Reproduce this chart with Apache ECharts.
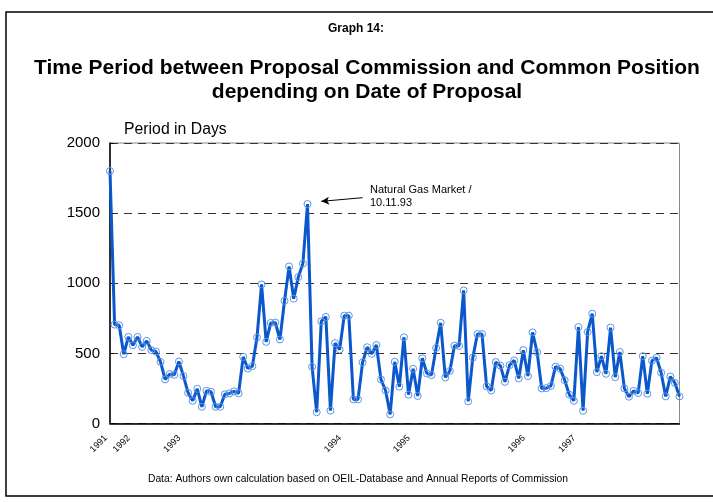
<!DOCTYPE html>
<html>
<head>
<meta charset="utf-8">
<script src="https://cdn.jsdelivr.net/npm/echarts@6/dist/echarts.min.js"></script>
<style>
html,body{margin:0;padding:0;background:#fff;}
#c{width:713px;height:502px;}
</style>
</head>
<body>
<div id="c"></div>
<script>
// Period in days for each proposal (in order of date of proposal)
const periodDays = [
  1800,705,700,494,617,558,617,546,589,523,
  513,440,314,352,347,442,338,219,162,247,
  119,233,226,119,119,208,215,229,215,475,
  392,409,613,992,582,717,720,599,875,1120,
  890,1044,1140,1565,404,80,728,760,92,573,
  527,769,769,172,172,436,544,497,560,314,
  235,65,440,262,615,205,390,196,465,357,
  345,538,718,328,375,555,553,949,158,470,
  638,638,265,235,438,413,297,416,450,321,
  523,338,650,508,250,252,268,405,391,309,
  206,162,688,91,653,783,366,480,354,684,
  330,510,250,191,233,217,480,212,448,469,
  362,193,335,289,193
];
// Year tick labels and the proposal index where each appears
const yearLabels = ['1991','1992','1993','1994','1995','1996','1997'];
const yearIndex  = [0, 5, 16, 51, 66, 91, 102];
const yTicks = [0, 500, 1000, 1500, 2000];

const categories = periodDays.map((v, i) => {
  const k = yearIndex.indexOf(i);
  return k >= 0 ? yearLabels[k] : String(i);
});

const FONT = '"Liberation Sans", Arial, sans-serif';
const chart = echarts.init(document.getElementById('c'), null, {renderer: 'canvas'});
chart.setOption({
  animation: false,
  backgroundColor: '#fff',
  textStyle: {fontFamily: FONT},
  graphic: [
    {type: 'rect', shape: {x: 6, y: 12, width: 720, height: 484},
     style: {fill: 'none', stroke: '#000', lineWidth: 1.5}, silent: true},
    {type: 'text', x: 356, y: 23,
     style: {text: 'Graph 14:', font: 'bold 12px ' + FONT, fill: '#000', align: 'center'}},
    {type: 'text', x: 367, y: 56,
     style: {text: 'Time Period between Proposal Commission and Common Position\ndepending on Date of Proposal',
             font: 'bold 21px ' + FONT, fill: '#000', align: 'center', lineHeight: 24}},
    {type: 'text', x: 358, y: 474,
     style: {text: 'Data: Authors own calculation based on OEIL-Database and Annual Reports of Commission',
             font: '10.3px ' + FONT, fill: '#000', align: 'center'}},
    {type: 'text', x: 124, y: 122,
     style: {text: 'Period in Days', font: '15.8px ' + FONT, fill: '#000'}},
    {type: 'text', x: 370, y: 183,
     style: {text: 'Natural Gas Market /\n10.11.93', font: '11px ' + FONT, fill: '#000', lineHeight: 13}}
  ],
  grid: {left: 110, right: 33.5, top: 143, bottom: 78.5, show: true,
         borderColor: '#888', borderWidth: 1},
  xAxis: {
    type: 'category',
    data: categories,
    boundaryGap: false,
    axisLine: {show: true, lineStyle: {color: '#000', width: 1.5}},
    axisTick: {show: false},
    splitLine: {show: false},
    axisLabel: {
      interval: (i) => yearIndex.indexOf(i) >= 0,
      formatter: (v) => (yearLabels.indexOf(v) >= 0 ? v : ''),
      rotate: 45, margin: 9, fontSize: 9, color: '#000', fontFamily: FONT,
      padding: [0, 6, 0, 0]
    }
  },
  yAxis: {
    type: 'value', min: 0, max: 2000, interval: 500,
    axisLine: {show: true, lineStyle: {color: '#000', width: 1.5}},
    axisTick: {show: true, inside: true, length: 4, lineStyle: {color: '#000'}},
    splitLine: {show: true, lineStyle: {color: '#333', type: [8, 6], width: 1}},
    axisLabel: {fontSize: 15, color: '#000', margin: 10, fontFamily: FONT,
                formatter: (v) => (yTicks.indexOf(v) >= 0 ? String(v) : '')}
  },
  series: [{
    type: 'line',
    data: periodDays,
    symbol: 'circle',
    symbolSize: 7,
    showAllSymbol: true,
    lineStyle: {color: '#0b57cc', width: 3},
    itemStyle: {color: 'rgba(255,255,255,0)', borderColor: '#5a95e6', borderWidth: 1},
    z: 3,
    markLine: {
      silent: true,
      symbol: ['none', 'arrow'],
      symbolSize: [6, 8],
      label: {show: false},
      lineStyle: {color: '#000', width: 1, type: 'solid'},
      data: [[{coord: [55, 1610]}, {coord: [46.2, 1584]}]]
    }
  }]
});
</script>
</body>
</html>
